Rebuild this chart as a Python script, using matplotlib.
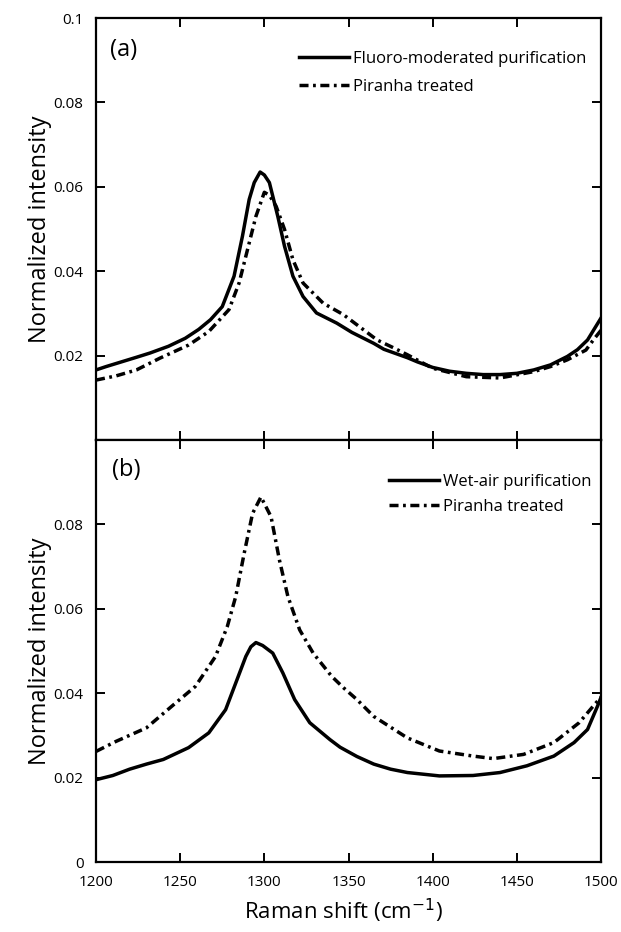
import matplotlib
matplotlib.use("Agg")
import matplotlib.pyplot as plt

plt.rcParams['font.family'] = ['Open Sans', 'DejaVu Sans']

# ---- Panel (a) data ----
a_fluoro_x = [1200, 1206, 1215, 1224, 1232, 1243, 1253, 1261, 1268, 1275, 1282, 1287, 1291, 1294,
              1297.5, 1300, 1303, 1308, 1312, 1317, 1323, 1331, 1343, 1352, 1365, 1371, 1385, 1391,
              1400, 1410, 1420, 1430, 1440, 1450, 1460, 1470, 1480, 1486, 1492, 1500]
a_fluoro_y = [0.0166, 0.0174, 0.0185, 0.0196, 0.0206, 0.0222, 0.0241, 0.0262, 0.0285, 0.0316, 0.0388,
              0.0483, 0.0570, 0.0610, 0.0635, 0.0628, 0.0610, 0.0530, 0.0459, 0.0388, 0.0340, 0.0301,
              0.0277, 0.0255, 0.0229, 0.0215, 0.0195, 0.0185, 0.0172, 0.0163, 0.0158, 0.0155, 0.0155,
              0.0158, 0.0166, 0.0178, 0.0198, 0.0214, 0.0237, 0.0289]

a_piranha_x = [1200, 1212, 1224, 1238, 1255, 1267, 1279, 1285, 1290, 1295, 1300, 1303, 1307, 1312,
               1317, 1323, 1335, 1347, 1355, 1367, 1377, 1385, 1400, 1420, 1440, 1460, 1470, 1480,
               1491, 1496, 1500]
a_piranha_y = [0.0142, 0.0152, 0.0166, 0.0194, 0.0225, 0.0257, 0.0309, 0.0372, 0.0451, 0.0530, 0.0587,
               0.0580, 0.0554, 0.0499, 0.0427, 0.0372, 0.0324, 0.0297, 0.0273, 0.0237, 0.0218, 0.0202,
               0.0170, 0.0150, 0.0147, 0.0162, 0.0174, 0.0190, 0.0213, 0.0240, 0.0260]

# ---- Panel (b) data ----
b_wetair_x = [1200, 1210, 1220, 1230, 1240, 1255, 1267, 1277, 1283, 1289, 1292, 1295, 1299, 1305,
              1311, 1318, 1327, 1339, 1345, 1355, 1365, 1375, 1385, 1404, 1424, 1440, 1456, 1472,
              1484, 1492, 1498, 1500]
b_wetair_y = [0.0195, 0.0205, 0.0220, 0.0232, 0.0243, 0.0271, 0.0306, 0.0361, 0.0424, 0.0487, 0.0510,
              0.0520, 0.0513, 0.0495, 0.0448, 0.0385, 0.0330, 0.0290, 0.0272, 0.0250, 0.0232, 0.0220,
              0.0212, 0.0204, 0.0205, 0.0212, 0.0228, 0.0251, 0.0283, 0.0314, 0.0370, 0.0390]

b_piranha_x = [1200, 1212, 1230, 1245, 1259, 1271, 1278, 1283, 1288, 1293, 1298, 1304, 1309, 1314,
               1321, 1329, 1340, 1347, 1355, 1365, 1385, 1404, 1424, 1436, 1454, 1472, 1487, 1497, 1500]
b_piranha_y = [0.0262, 0.0286, 0.0318, 0.0369, 0.0416, 0.0487, 0.0558, 0.0629, 0.0731, 0.0826, 0.0865,
               0.0818, 0.0715, 0.0629, 0.0550, 0.0495, 0.0440, 0.0413, 0.0385, 0.0345, 0.0294, 0.0263,
               0.0251, 0.0245, 0.0255, 0.0283, 0.0330, 0.0377, 0.0390]

x_ticks = [1200, 1250, 1300, 1350, 1400, 1450, 1500]
a_yticks = [0.0, 0.02, 0.04, 0.06, 0.08, 0.1]
a_ylabels = ['', '0.02', '0.04', '0.06', '0.08', '0.1']
b_yticks = [0.0, 0.02, 0.04, 0.06, 0.08, 0.1]
b_ylabels = ['0', '0.02', '0.04', '0.06', '0.08', '']

W, H = 621, 932
fig = plt.figure(figsize=(W / 100, H / 100), dpi=100)
left = 96 / W
width = (601 - 96) / W
ph = 422 / H
ax_a = fig.add_axes([left, (H - 440) / H, width, ph])
ax_b = fig.add_axes([left, (H - 862) / H, width, ph])

dash = (0, (2.6, 1.3, 0.8, 1.3))
lw = 2.5

ax_a.plot(a_fluoro_x, a_fluoro_y, color='black', lw=lw, solid_joinstyle='round',
          label='Fluoro-moderated purification')
ax_a.plot(a_piranha_x, a_piranha_y, color='black', lw=lw, linestyle=dash,
          label='Piranha treated')
ax_b.plot(b_wetair_x, b_wetair_y, color='black', lw=lw, solid_joinstyle='round',
          label='Wet-air purification')
ax_b.plot(b_piranha_x, b_piranha_y, color='black', lw=lw, linestyle=dash,
          label='Piranha treated')

for ax, yt, yl in ((ax_a, a_yticks, a_ylabels), (ax_b, b_yticks, b_ylabels)):
    ax.set_xlim(1200, 1500)
    ax.set_ylim(0, 0.1)
    ax.set_xticks(x_ticks)
    ax.set_yticks(yt)
    ax.set_yticklabels(yl)
    for s in ax.spines.values():
        s.set_linewidth(1.6)
    ax.tick_params(direction='in', length=6.5, width=1.4, top=True, right=True,
                   labelsize=11, color='black')
    ax.tick_params(axis='y', pad=9)
    ax.tick_params(axis='x', pad=9)
    ax.set_ylabel('Normalized intensity', fontsize=17)
    ax.yaxis.set_label_coords(-0.087, 0.5)

ax_a.tick_params(axis='x', labelbottom=False)
ax_b.set_xticklabels([str(v) for v in x_ticks])
ax_b.set_xlabel('Raman shift (cm$^{-1}$)', fontsize=16)
ax_b.xaxis.set_label_coords(0.49, -0.083)

ax_a.text(0.027, 0.925, '(a)', transform=ax_a.transAxes, fontsize=17, va='center', ha='left')
ax_b.text(0.031, 0.93, '(b)', transform=ax_b.transAxes, fontsize=17, va='center', ha='left')

leg_kw = dict(frameon=False, fontsize=12, handlelength=3.0, handletextpad=0.25,
              borderaxespad=0.0)
ax_a.legend(loc='upper left', bbox_to_anchor=((292 - 96) / 505, (440 - 44) / 422),
            labelspacing=0.75, **leg_kw)
ax_b.legend(loc='upper left', bbox_to_anchor=((382 - 96) / 505, (862 - 467) / 422),
            labelspacing=0.55, **leg_kw)

fig.savefig('out.png', dpi=100)
